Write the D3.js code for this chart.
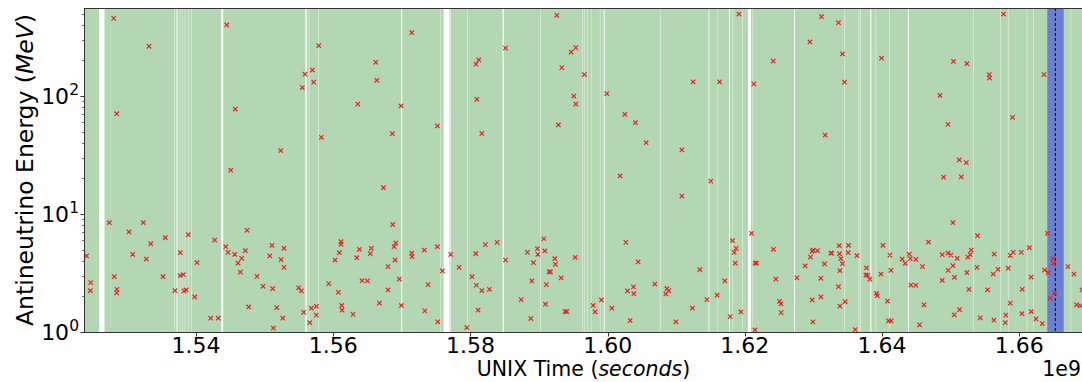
<!DOCTYPE html>
<html>
<head>
<meta charset="utf-8">
<script src="https://cdn.jsdelivr.net/npm/d3@7"></script>
<style>
  body { margin: 0; background: #fff; }
  svg { display: block; }
  text { font-family: "DejaVu Sans", sans-serif; fill: #000; }
</style>
</head>
<body>
<svg id="chart" width="1082" height="382"></svg>
<script>
// Candidate antineutrino events: UNIX time (units of 1e9 s) and energy (MeV)
const eventTime = [
  1.52406,1.52465,1.52459,1.52800,1.52736,1.52809,1.52844,1.52848,1.52844,1.53023,
  1.53077,1.53232,1.53275,1.53315,1.53340,1.53519,1.53552,1.53694,1.53771,1.53771,
  1.53815,1.53825,1.53859,1.53888,1.53981,1.54015,1.54214,1.54273,1.54325,1.54448,
  1.54433,1.54467,1.54506,1.54564,1.54573,1.54612,1.54646,1.54666,1.54719,1.54744,
  1.54768,1.54889,1.54977,1.55075,1.55108,1.55118,1.55127,1.55177,1.55235,1.55239,
  1.55264,1.55283,1.55283,1.55497,1.55535,1.55550,1.55570,1.55589,1.55658,1.55681,
  1.55696,1.55716,1.55754,1.55754,1.55789,1.55827,1.55935,1.56027,
  1.56075,1.56089,1.56114,1.56114,1.56124,1.56129,1.56289,1.56343,1.56358,1.56381,
  1.56420,1.56498,1.56541,1.56556,1.56620,1.56635,1.56673,1.56731,1.56799,1.56799,
  1.56862,1.56868,1.56887,1.56912,1.56901,1.56964,1.56989,1.56993,1.57145,1.57145,
  1.57149,1.57329,1.57335,1.57383,1.57518,1.57518,1.57524,1.57591,1.57713,1.57835,
  1.57947,1.58024,1.58078,1.58082,1.58122,1.58093,1.58087,1.58112,1.58166,1.58166,
  1.58218,1.58276,1.58389,1.58510,1.58510,1.58739,1.58830,1.58880,1.58895,1.58918,
  1.58976,1.58982,1.59070,1.59084,1.59093,1.59107,1.59147,1.59166,1.59230,1.59239,
  1.59259,1.59282,1.59322,1.59332,1.59380,1.59405,1.59468,1.59507,1.59526,1.59536,
  1.59536,1.59661,
  1.59788,1.59817,1.59909,1.59988,1.60061,1.60182,1.60250,1.60265,1.60288,1.60328,
  1.60376,1.60382,1.60405,1.60444,1.60561,1.60688,1.60848,1.60863,1.60892,1.60994,
  1.61082,1.61082,1.61236,1.61246,1.61344,1.61446,1.61504,1.61596,1.61630,1.61708,
  1.61786,1.61819,1.61844,1.61873,1.61859,1.61913,1.61942,1.62096,1.62131,1.62146,
  1.62150,1.62169,1.62413,1.62417,1.62452,1.62505,1.62525,1.62529,1.62758,1.62879,
  1.62948,1.62957,1.62981,1.62996,1.62981,1.62991,1.63059,1.63108,1.63108,1.63117,
  1.63161,1.63171,1.63254,1.63263,
  1.63365,1.63375,1.63379,1.63400,1.63423,1.63385,1.63365,1.63385,1.63423,1.63452,
  1.63462,1.63511,1.63506,1.63608,1.63633,1.63773,1.63764,1.63788,1.63823,1.63919,
  1.63929,1.63983,1.63992,1.64012,1.64079,1.64094,1.64133,1.64114,1.64129,1.64293,
  1.64337,1.64396,1.64410,1.64420,1.64493,1.64493,1.64546,1.64589,1.64610,1.64677,
  1.64843,1.64877,1.64877,1.64896,1.64960,1.64960,1.65004,1.64964,1.65033,1.65041,
  1.65033,1.65056,1.65052,1.65095,1.65125,1.65129,1.65154,1.65227,1.65237,1.65237,
  1.65251,1.65285,1.65300,1.65266,1.65383,1.65391,1.65431,1.65537,1.65562,1.65566,
  1.65620,1.65635,1.65630,1.65689,1.65770,1.65795,1.65805,1.65839,1.65868,1.65868,
  1.65902,1.65912,1.66029,1.66043,1.66039,1.66145,1.66174,1.66174,1.66243,1.66335,
  1.66360,1.66369,1.66412,1.66422,1.66451,1.66491,1.66499,1.66514,1.66709,1.66797,
  1.66835,1.66889,1.66914
];
const eventEnergy = [
  4.41,2.62,2.24,455,8.44,2.94,70.8,2.30,2.15,7.04,
  4.55,8.44,4.15,264,5.60,2.94,6.30,2.24,4.70,3.00,
  3.06,2.23,2.27,6.68,1.98,3.87,1.31,6.02,1.31,400,
  5.28,4.73,23.5,4.55,77.6,3.84,3.22,4.21,4.89,7.28,
  1.63,2.96,2.44,4.41,5.43,2.33,1.08,1.61,34.4,4.10,
  1.31,5.12,3.53,2.37,2.23,118,1.47,153,1.20,1.59,
  166,131,1.65,1.39,267,44.7,2.57,4.07,
  2.17,4.70,5.83,5.54,1.68,1.53,1.41,4.26,85.5,5.02,
  2.72,2.71,4.61,5.12,193,136,1.76,16.7,3.58,2.27,
  47.9,8.12,5.28,5.68,4.07,2.81,82.3,1.68,344,4.65,
  4.35,4.95,1.51,2.52,55.7,5.28,1.22,3.29,4.55,3.53,
  1.09,2.94,4.61,186,202,93.8,2.49,1.53,48.3,2.24,
  5.50,2.30,5.75,255,4.07,1.88,4.73,1.30,2.71,3.87,
  5.08,4.55,6.17,4.86,1.72,2.52,3.24,3.24,4.18,3.75,
  483,56.8,2.87,174,1.49,1.49,236,100,4.30,257,
  85.5,152,
  1.68,1.48,1.87,105,1.59,21.0,70.0,5.75,2.23,1.25,
  2.41,2.11,59.4,3.92,40.2,2.55,2.10,2.33,2.24,1.22,
  34.9,14.2,1.59,132,3.37,1.88,19.0,2.05,132,2.71,
  1.35,5.94,4.73,5.12,3.84,495,1.48,6.86,127,1.04,
  3.84,3.84,198,5.02,2.81,1.82,1.73,1.46,2.88,3.63,
  287,4.32,4.83,4.95,1.87,1.22,4.89,2.85,1.98,470,
  3.77,46.7,4.67,4.65,
  418,5.39,4.61,4.18,3.79,3.31,2.42,1.66,227,131,
  1.81,5.43,4.70,1.05,4.43,3.49,3.04,3.03,2.80,2.13,
  2.03,3.10,209,5.43,1.83,1.24,1.24,4.49,3.33,4.15,
  3.82,4.58,4.18,2.50,4.13,2.49,1.15,3.58,1.70,5.79,
  101,4.52,2.74,20.5,57.5,4.65,4.49,3.33,8.44,197,
  3.65,2.91,1.40,4.21,28.7,1.55,20.6,27.2,188,3.18,
  4.32,4.52,4.95,2.30,3.53,6.55,1.32,2.28,152,142,
  3.10,4.58,1.26,3.40,495,1.20,1.39,3.47,4.47,1.76,
  66.0,4.73,4.73,2.30,1.43,5.18,2.92,1.49,1.29,1.18,
  152,3.35,6.86,3.18,1.93,4.18,3.82,2.14,3.58,3.10,
  1.70,1.67,2.27
];

// Detector downtime intervals [start, end] (units of 1e9 s)
const downtime = [
  [1.52586,1.52666],[1.53681,1.53687],[1.53716,1.53730],[1.53764,1.53770],
  [1.53803,1.53809],[1.53837,1.53843],[1.53885,1.53891],[1.53928,1.53934],
  [1.54368,1.54396],[1.55594,1.55614],[1.55645,1.55651],[1.55780,1.55786],
  [1.56992,1.57006],[1.57562,1.57568],[1.57609,1.57696],[1.57707,1.57715],
  [1.57953,1.57959],[1.58469,1.58489],[1.59017,1.59023],[1.59635,1.59641],
  [1.59664,1.59670],[1.59702,1.59708],[1.59756,1.59762],[1.59887,1.59893],
  [1.59942,1.59956],[1.60762,1.60768],[1.61462,1.61468],[1.61476,1.61482],
  [1.61604,1.61610],[1.61769,1.61783],[1.61822,1.61828],[1.61962,1.61968],
  [1.62044,1.62088],[1.62114,1.62120],[1.62716,1.62730],[1.63445,1.63451],
  [1.63660,1.63666],[1.63681,1.63687],[1.63830,1.63844],[1.63907,1.63913],
  [1.64105,1.64111],[1.64378,1.64392],[1.65330,1.65336],[1.65719,1.65725],
  [1.65840,1.65846],[1.66109,1.66115],[1.66205,1.66211],[1.66750,1.66756]
];

// Search window around the transient and its trigger time (units of 1e9 s)
const searchWindow = [1.66408, 1.66647];
const triggerTime = 1.66525;

// Axis ranges and ticks
const timeRange = [1.52382, 1.66914];
const energyRange = [1, 557];
const xTickValues = [1.54, 1.56, 1.58, 1.60, 1.62, 1.64, 1.66];
const xTickLabels = ["1.54", "1.56", "1.58", "1.60", "1.62", "1.64", "1.66"];
const yTickValues = [1, 10, 100];
const yTickExponents = ["0", "1", "2"];

const svg = d3.select("#chart");
const plot = { left: 85, right: 1082, top: 8, bottom: 332 };

const x = d3.scaleLinear().domain(timeRange).range([plot.left, plot.right]);
const y = d3.scaleLog().domain(energyRange).range([plot.bottom, plot.top]);

svg.append("defs").append("clipPath").attr("id", "plotClip")
  .append("rect")
  .attr("x", plot.left).attr("y", plot.top)
  .attr("width", plot.right - plot.left).attr("height", plot.bottom - plot.top);

const area = svg.append("g").attr("clip-path", "url(#plotClip)");

// Live time (green) with downtime gaps
area.append("rect")
  .attr("x", x(timeRange[0])).attr("y", plot.top)
  .attr("width", x(timeRange[1]) - x(timeRange[0]) + 2)
  .attr("height", plot.bottom - plot.top)
  .attr("fill", "rgb(179,215,179)");

area.selectAll("rect.gap").data(downtime).enter().append("rect")
  .attr("class", "gap")
  .attr("x", d => x(d[0]))
  .attr("width", d => x(d[1]) - x(d[0]))
  .attr("y", plot.top).attr("height", plot.bottom - plot.top)
  .attr("fill", "#ffffff");

// Search window band and trigger line
area.append("rect")
  .attr("x", x(searchWindow[0]))
  .attr("width", x(searchWindow[1]) - x(searchWindow[0]))
  .attr("y", plot.top).attr("height", plot.bottom - plot.top)
  .attr("fill", "rgb(106,128,213)");

area.append("line")
  .attr("x1", x(triggerTime)).attr("x2", x(triggerTime))
  .attr("y1", plot.top).attr("y2", plot.bottom)
  .attr("stroke", "#000").attr("stroke-width", 1)
  .attr("stroke-dasharray", "3,2");

// Event markers
const events = eventTime.map((t, i) => ({ t, e: eventEnergy[i] }));
area.selectAll("path.evt").data(events).enter().append("path")
  .attr("class", "evt")
  .attr("transform", d => `translate(${x(d.t)},${y(d.e)})`)
  .attr("d", "M-2.2,-2.2L2.2,2.2M-2.2,2.2L2.2,-2.2")
  .attr("stroke", "#e6261f").attr("stroke-width", 1.2)
  .attr("fill", "none");

// Spines
const spine = svg.append("g").attr("stroke", "#333").attr("stroke-width", 1).attr("fill", "none");
spine.append("line").attr("x1", plot.left - 0.5).attr("x2", plot.right + 1)
  .attr("y1", plot.top + 0.5).attr("y2", plot.top + 0.5);
spine.append("line").attr("x1", plot.left - 0.5).attr("x2", plot.right + 1)
  .attr("y1", plot.bottom + 0.5).attr("y2", plot.bottom + 0.5);
spine.append("line").attr("x1", plot.left - 0.5).attr("x2", plot.left - 0.5)
  .attr("y1", plot.top).attr("y2", plot.bottom + 1);

// X ticks
const xt = svg.append("g");
xTickValues.forEach((v, i) => {
  const px = Math.round(x(v)) + 0.5;
  xt.append("line").attr("x1", px).attr("x2", px)
    .attr("y1", plot.bottom + 1).attr("y2", plot.bottom + 4.5)
    .attr("stroke", "#333").attr("stroke-width", 1);
  xt.append("text").attr("x", x(v)).attr("y", 353)
    .attr("text-anchor", "middle").attr("font-size", 22)
    .text(xTickLabels[i]);
});

// Y ticks: major decades plus minor ticks
const yt = svg.append("g");
y.ticks().forEach(v => {
  const major = yTickValues.includes(v);
  const py = Math.round(y(v)) + 0.5;
  yt.append("line")
    .attr("x1", plot.left - 1).attr("x2", plot.left - (major ? 4.5 : 3))
    .attr("y1", py).attr("y2", py)
    .attr("stroke", "#333").attr("stroke-width", major ? 1 : 0.7);
});
yTickValues.forEach((v, i) => {
  const t = yt.append("text")
    .attr("x", 79).attr("y", y(v) + 8)
    .attr("text-anchor", "end").attr("font-size", 22);
  t.append("tspan").text("10");
  t.append("tspan").attr("font-size", 15.5).attr("dy", -9).text(yTickExponents[i]);
});

// Axis labels
const yl = svg.append("text")
  .attr("transform", `translate(33,${(plot.top + plot.bottom) / 2}) rotate(-90)`)
  .attr("text-anchor", "middle").attr("font-size", 23.5);
yl.append("tspan").text("Antineutrino Energy (");
yl.append("tspan").attr("font-style", "italic").text("MeV");
yl.append("tspan").text(")");

const xl = svg.append("text")
  .attr("x", (plot.left + plot.right) / 2).attr("y", 376)
  .attr("text-anchor", "middle").attr("font-size", 20.5);
xl.append("tspan").text("UNIX Time (");
xl.append("tspan").attr("font-style", "italic").text("seconds");
xl.append("tspan").text(")");

svg.append("text")
  .attr("x", 1081).attr("y", 376)
  .attr("text-anchor", "end").attr("font-size", 20.5)
  .text("1e9");
</script>
</body>
</html>
